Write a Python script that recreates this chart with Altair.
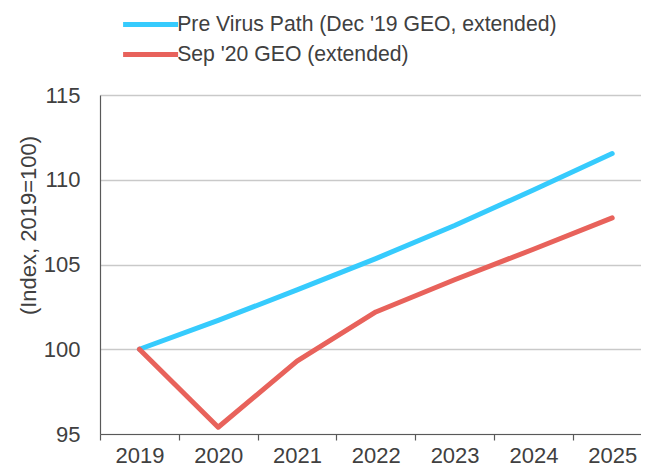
import altair as alt
import pandas as pd

years = [2019, 2020, 2021, 2022, 2023, 2024, 2025]
pre_virus = [100.0, 101.7, 103.5, 105.35, 107.3, 109.4, 111.55]
sep20 = [100.0, 95.4, 99.3, 102.2, 104.1, 105.9, 107.75]
series_names = ["Pre Virus Path (Dec '19 GEO, extended)", "Sep '20 GEO (extended)"]
series_colors = ["#36CBFD", "#E8625B"]
x_tick_values = [2018.5, 2019.5, 2020.5, 2021.5, 2022.5, 2023.5, 2024.5]
y_tick_values = [95, 100, 105, 110, 115]

rows = []
for name, vals in zip(series_names, [pre_virus, sep20]):
    for y, v in zip(years, vals):
        rows.append({"year": y, "value": v, "series": name})
df = pd.DataFrame(rows)

FONT = "Liberation Sans"
band = 78.8
plot_w = 541
x_max = 2018.5 + plot_w / band

chart = alt.Chart(df).mark_line(strokeWidth=5, strokeCap="round", strokeJoin="round").encode(
    x=alt.X("year:Q",
            scale=alt.Scale(domain=[2018.5, x_max], nice=False, zero=False),
            axis=alt.Axis(values=x_tick_values, title=None, grid=False,
                          labelExpr="format(datum.value + 0.5, 'd')",
                          labelOffset=band / 2, labelFlush=False, labelOverlap=False,
                          labelBound=False, tickSize=6, tickColor="#595959", tickWidth=1.2,
                          domainColor="#595959", domainWidth=1.2,
                          labelFontSize=22, labelFont=FONT, labelColor="#404040",
                          labelPadding=5)),
    y=alt.Y("value:Q",
            scale=alt.Scale(domain=[95, 115], nice=False, zero=False),
            axis=alt.Axis(values=y_tick_values, title="(Index, 2019=100)",
                          ticks=False, tickSize=0, grid=True, gridColor="#c9c9c9", gridWidth=1.3,
                          domainColor="#595959", domainWidth=1.2,
                          labelFontSize=22, labelFont=FONT, labelColor="#404040",
                          labelPadding=20,
                          titleFontSize=22, titleFont=FONT, titleColor="#404040",
                          titleFontWeight="normal", titleX=-72, titleY=130,
                          titleAngle=270, titleBaseline="middle", titleAlign="center")),
    color=alt.Color("series:N",
                    scale=alt.Scale(domain=series_names, range=series_colors),
                    legend=alt.Legend(title=None, orient="none", legendX=40, legendY=-81,
                                      symbolType="M-5,0L5,0", symbolSize=121,
                                      symbolStrokeWidth=5, labelFontSize=21.2, labelFont=FONT,
                                      labelColor="#404040", labelOffset=16, rowPadding=8,
                                      padding=0, labelLimit=600)),
    order=alt.Order("year:Q"),
).properties(
    width=plot_w,
    height=339,
    autosize=alt.AutoSizeParams(type="none"),
    padding={"left": 92, "top": 87, "right": 0, "bottom": 45},
).configure_view(stroke=None)

chart.save("out.html", embed_options={"renderer": "svg", "actions": False})
